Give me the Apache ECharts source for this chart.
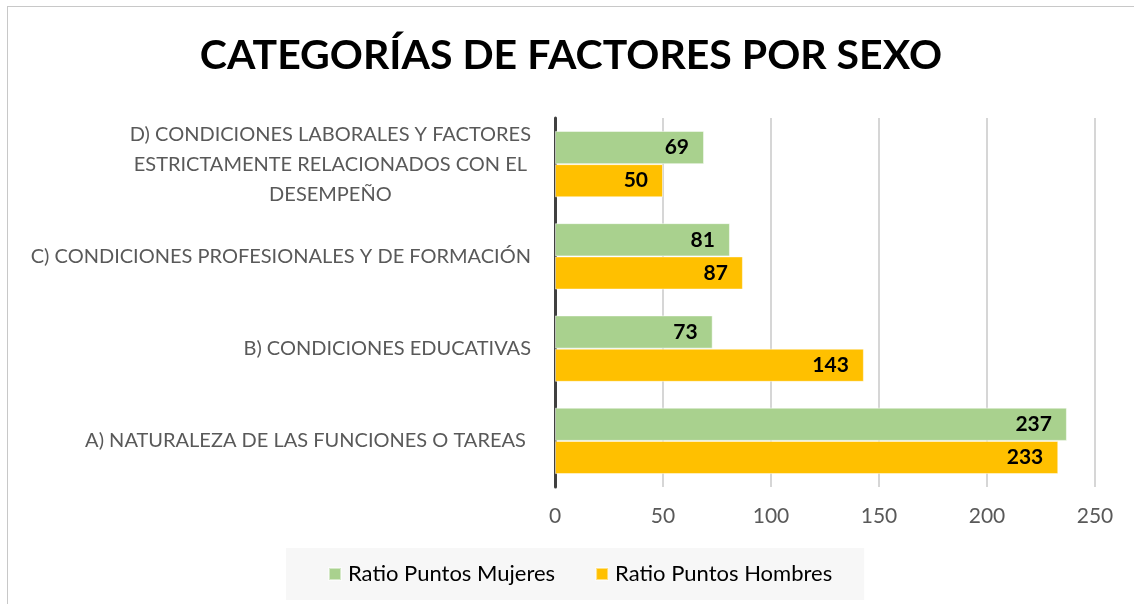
<!DOCTYPE html>
<html>
<head>
<meta charset="utf-8">
<script src="https://cdn.jsdelivr.net/npm/echarts@6/dist/echarts.min.js"></script>
<style>
  html, body { margin: 0; padding: 0; background: #fff; }
  #chart { position: absolute; left: 7px; top: 6px; width: 1127px; height: 598px;
           border-left: 1px solid #c8c8c8; border-top: 1px solid #c8c8c8; box-sizing: border-box; }
</style>
</head>
<body>
<div id="chart"></div>
<script>
// categorias (de abajo hacia arriba)
var categorias = [
    'A) NATURALEZA DE LAS FUNCIONES O TAREAS ',
    'B) CONDICIONES EDUCATIVAS',
    'C) CONDICIONES PROFESIONALES Y DE FORMACIÓN',
    'D) CONDICIONES LABORALES Y FACTORES\nESTRICTAMENTE RELACIONADOS CON EL\nDESEMPEÑO'
];
var mujeres = [237, 73, 81, 69];
var hombres = [233, 143, 87, 50];
var ticksX = [0, 50, 100, 150, 200, 250];

var fuente = 'Lato';
var myChart = echarts.init(document.getElementById('chart'));

var etiqueta = {
    show: true, position: 'insideRight', distance: 15,
    fontFamily: fuente, fontWeight: 'bold', fontSize: 21, color: '#000'
};

var option = {
    backgroundColor: '#fff',
    animation: false,
    title: {
        text: 'CATEGORÍAS DE FACTORES POR SEXO',
        left: 'center',
        top: 23,
        padding: [5, 0, 5, 10],
        textStyle: { fontFamily: fuente, fontWeight: 'bold', fontSize: 41, color: '#000' }
    },
    legend: {
        top: 541,
        left: 278,
        itemWidth: 12,
        itemHeight: 12,
        itemGap: 40,
        padding: [15, 32, 15, 42],
        backgroundColor: '#f7f7f7',
        icon: 'rect',
        textStyle: { fontFamily: fuente, fontSize: 22, color: '#000', padding: [0, 0, 0, 2] },
        data: ['Ratio Puntos Mujeres', 'Ratio Puntos Hombres']
    },
    grid: { left: 547, right: 39, top: 111, height: 369, containLabel: false },
    xAxis: {
        type: 'value',
        min: 0,
        max: 250,
        interval: 50,
        axisLine: { show: false },
        axisTick: { show: false },
        splitLine: { lineStyle: { color: '#c8c8c8', width: 1.5 } },
        axisLabel: {
            fontFamily: fuente, fontSize: 21, color: '#595959', margin: 19,
            formatter: function (v) { return ticksX.indexOf(v) >= 0 ? String(v) : ''; }
        }
    },
    yAxis: {
        type: 'category',
        data: categorias,
        axisLine: { lineStyle: { color: '#404040', width: 3 } },
        axisTick: { show: false },
        axisLabel: {
            fontFamily: fuente, fontSize: 20, color: '#595959', margin: 24,
            lineHeight: 30,
            formatter: function (v) {
                return v.split('\n').map(function (l) { return '{c|' + l + '}'; }).join('\n');
            },
            rich: { c: { align: 'center', fontFamily: fuente, fontSize: 20, color: '#595959', lineHeight: 30 } }
        }
    },
    series: [
        {
            name: 'Ratio Puntos Mujeres',
            type: 'bar',
            data: mujeres,
            barGap: '0%',
            barCategoryGap: '28%',
            itemStyle: { color: '#a9d18e', borderColor: 'rgba(255,255,255,0.5)', borderWidth: 1 },
            label: etiqueta
        },
        {
            name: 'Ratio Puntos Hombres',
            type: 'bar',
            data: hombres,
            barGap: '0%',
            barCategoryGap: '28%',
            itemStyle: { color: '#ffc000', borderColor: 'rgba(255,255,255,0.5)', borderWidth: 1 },
            label: etiqueta
        }
    ]
};

myChart.setOption(option);
</script>
</body>
</html>
